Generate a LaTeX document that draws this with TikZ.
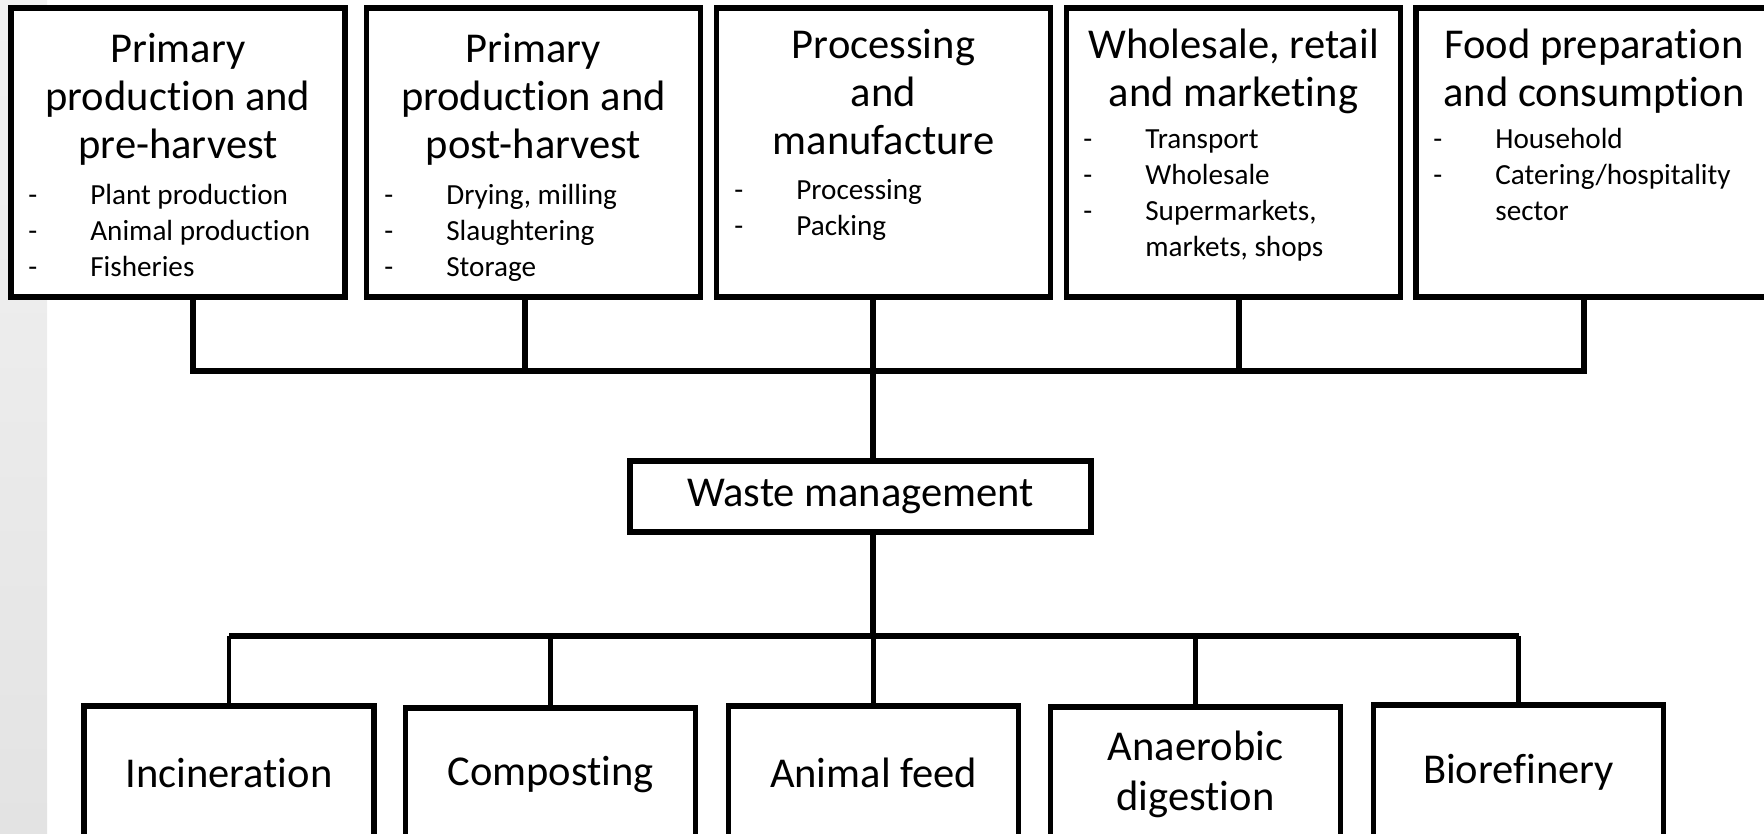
\documentclass[tikz,border=0pt]{standalone}
\usepackage{fontspec}
\setmainfont{Carlito}[Ligatures=NoCommon]
\newcommand{\dashitem}[1]{\makebox[1.24cm][l]{-}#1}
\newcommand{\moreitem}[1]{\hspace*{1.24cm}#1}
\begin{document}
\begin{tikzpicture}[x=0.02cm, y=-0.02cm,
  stage/.style={draw, line width=3.2pt, fill=white, minimum width=6.68cm, minimum height=5.78cm, inner sep=0},
  stagetext/.style={anchor=north, align=center, inner sep=0, font=\fontsize{24.2}{27.3}\selectfont},
  stagelist/.style={anchor=north west, align=left, inner sep=0, font=\fontsize{16.6}{20.5}\selectfont},
  hub/.style={draw, line width=3.2pt, fill=white, minimum width=9.22cm, minimum height=1.42cm, inner sep=0, font=\fontsize{24.2}{27.3}\selectfont},
  outlet/.style={draw, line width=3.2pt, fill=white, minimum width=5.8cm, minimum height=2.68cm, align=center, inner sep=0, font=\fontsize{24.2}{28.5}\selectfont},
  link/.style={line width=3.2pt},
  thinlink/.style={line width=2.4pt}
]
\clip (0,0) rectangle (1764,833);
\shade[top color=gray!10, bottom color=gray!22] (0,0) rectangle (47,833);

\node[stage] (prepre) at (178,152.5) {};
\node[stage] (prepost) at (533.5,152.5) {};
\node[stage] (proc) at (883.5,152.5) {};
\node[stage] (retail) at (1233.5,152.5) {};
\node[stage, minimum width=7.12cm] (food) at (1594,152.5) {};

\node[stagetext] (prepret) at (178,28.5) {\strut Primary\\production and\\pre-harvest};
\node[stagetext] (postt) at (533.5,28.5) {\strut Primary\\production and\\post-harvest};
\node[stagetext] (proct) at (883.5,24.3) {\strut Processing\\and\\manufacture};
\node[stagetext] (retailt) at (1233.5,24.3) {\strut Wholesale, retail\\and marketing};
\node[stagetext] (foodt) at (1594,24.3) {\strut Food preparation\\and consumption};

\node[stagelist] (preprel) at (28,178.7) {\strut\dashitem{Plant production}\\\dashitem{Animal production}\\\dashitem{Fisheries}};
\node[stagelist] (postl) at (384,178.7) {\strut\dashitem{Drying, milling}\\\dashitem{Slaughtering}\\\dashitem{Storage}};
\node[stagelist] (procl) at (734,174.2) {\strut\dashitem{Processing}\\\dashitem{Packing}};
\node[stagelist] (retaill) at (1083,122.7) {\strut\dashitem{Transport}\\\dashitem{Wholesale}\\\dashitem{Supermarkets,}\\\moreitem{markets, shops}};
\node[stagelist] (foodl) at (1433,122.7) {\strut\dashitem{Household}\\\dashitem{Catering/hospitality}\\\moreitem{sector}};

\node[hub] (wm) at (860.5,496.5) {Waste management};

\node[outlet] (incin) at (229,773) {Incineration};
\node[outlet] (compost) at (550.5,775) {Composting};
\node[outlet] (feed) at (873.5,773) {Animal feed};
\node[outlet] (anaer) at (1195.5,774) {Anaerobic\\digestion};
\node[outlet] (biore) at (1518.5,772) {Biorefinery};

\coordinate (j1) at (193,371);
\coordinate (j2) at (525,371);
\coordinate (j3) at (873,371);
\coordinate (j4) at (1239,371);
\coordinate (j5) at (1584,371);
\coordinate (lowbus) at (873,636);

\draw[link] (j1 |- prepre.south) -- (j1) -- (j5) -- (j5 |- food.south);
\draw[link] (j2 |- prepost.south) -- (j2);
\draw[link] (j4 |- retail.south) -- (j4);
\draw[link] (j3 |- proc.south) -- (j3 |- wm.north);
\draw[link] (j3 |- wm.south) -- (lowbus);
\draw[link] (incin.north |- lowbus) -- (biore.north |- lowbus);
\foreach \o in {incin,compost,feed,anaer,biore}
  \draw[thinlink] (\o.north |- lowbus) -- (\o.north);
\end{tikzpicture}
\end{document}
